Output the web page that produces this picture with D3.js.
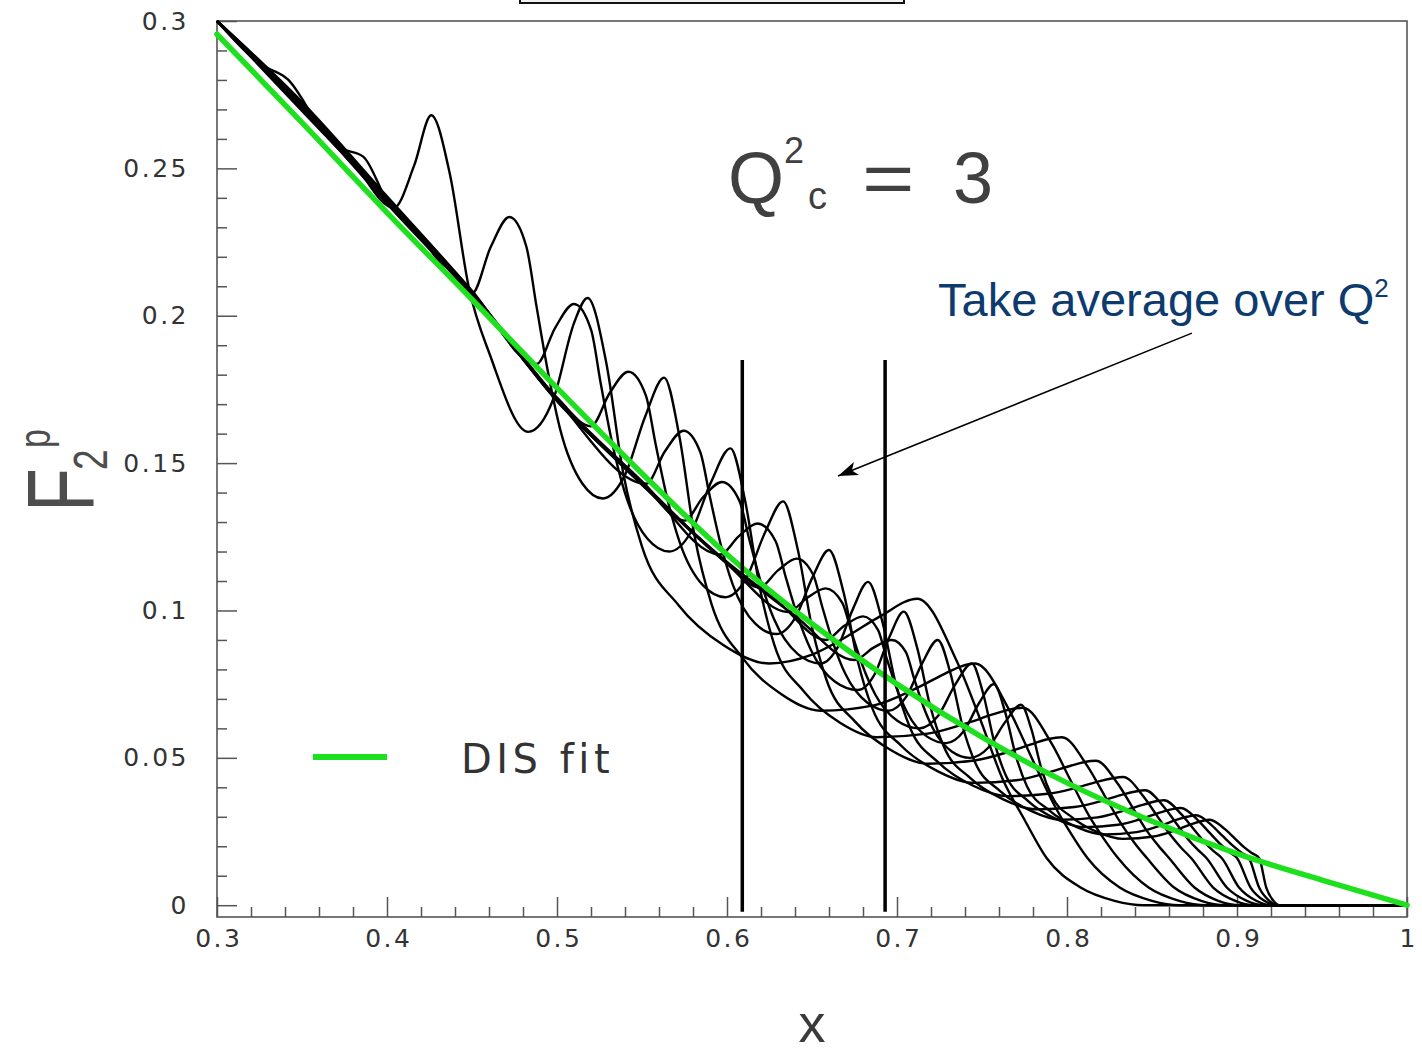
<!DOCTYPE html>
<html>
<head>
<meta charset="utf-8">
<script src="https://cdn.jsdelivr.net/npm/d3@7"></script>
<style>
  html, body { margin: 0; padding: 0; background: #fff; }
  svg { display: block; }
</style>
</head>
<body>
<svg id="chart" width="1422" height="1054"></svg>
<script>
// ---- Axis ticks ----
const xMajorTicks = [0.3, 0.4, 0.5, 0.6, 0.7, 0.8, 0.9, 1.0];
const xTickLabels = ["0.3", "0.4", "0.5", "0.6", "0.7", "0.8", "0.9", "1"];
const yMajorTicks = [0, 0.05, 0.1, 0.15, 0.2, 0.25, 0.3];
const yTickLabels = ["0", "0.05", "0.1", "0.15", "0.2", "0.25", "0.3"];

// ---- DIS fit (smooth F2 vs x) ----
const disFitX  = [0.30, 0.35, 0.40, 0.45, 0.50, 0.55, 0.60, 0.65, 0.70, 0.75, 0.80, 0.85, 0.90, 0.95, 1.00];
const disFitF2 = [0.2955, 0.2655, 0.2350, 0.2055, 0.1755, 0.1465, 0.1190, 0.0955, 0.0750, 0.0570, 0.0415, 0.0285, 0.0175, 0.0085, 0.0];

// ---- Resonance-region F2 at fixed Q2, one array per Q2 value: [x, F2] ----
const resCurve0 = [[0.300,0.300],[0.325,0.2855],[0.342,0.2800],[0.360,0.2646],[0.380,0.2519],[0.404,0.2366],[0.416,0.2510],[0.426,0.2680],[0.437,0.2480],[0.448,0.2100],[0.461,0.1860],[0.483,0.1606],[0.498,0.1720],[0.510,0.1975],[0.518,0.2060],[0.529,0.1840],[0.539,0.1465],[0.550,0.1217],[0.5715,0.1018],[0.598,0.0882],[0.625,0.0820],[0.650,0.0850],[0.670,0.0910],[0.690,0.0980],[0.712,0.1040],[0.735,0.0830],[0.749,0.0630],[0.762,0.0430],[0.775,0.0290],[0.788,0.0160],[0.808,0.0060],[0.828,0.0015],[0.845,0],[1.0,0]];
const resCurve1 = [[0.300,0.300],[0.350,0.2710],[0.372,0.2571],[0.386,0.2540],[0.400,0.2390],[0.420,0.2264],[0.450,0.2075],[0.461,0.2233],[0.472,0.2335],[0.482,0.2234],[0.488,0.2030],[0.495,0.1800],[0.502,0.1612],[0.515,0.1430],[0.527,0.1380],[0.540,0.1460],[0.552,0.1660],[0.563,0.1790],[0.572,0.1590],[0.581,0.1250],[0.591,0.1020],[0.609,0.0840],[0.632,0.0716],[0.655,0.0660],[0.687,0.0679],[0.710,0.0732],[0.728,0.0785],[0.737,0.0809],[0.746,0.0820],[0.766,0.0662],[0.779,0.0503],[0.792,0.0345],[0.802,0.0246],[0.812,0.0160],[0.831,0.0060],[0.850,0.0015],[0.866,0],[1.0,0]];
const resCurve2 = [[0.300,0.300],[0.350,0.2720],[0.400,0.2400],[0.450,0.2085],[0.488,0.1836],[0.499,0.1960],[0.510,0.2040],[0.5201,0.1951],[0.5257,0.1771],[0.5324,0.1570],[0.5397,0.1404],[0.5531,0.1244],[0.566,0.1200],[0.579,0.1268],[0.5908,0.1438],[0.602,0.1550],[0.6106,0.1374],[0.6192,0.1080],[0.6278,0.0884],[0.645,0.0727],[0.6665,0.0619],[0.688,0.0570],[0.718,0.0582],[0.7396,0.0615],[0.7568,0.0648],[0.7654,0.0663],[0.774,0.0670],[0.791,0.0548],[0.802,0.0425],[0.813,0.0303],[0.8216,0.0226],[0.830,0.0160],[0.848,0.0060],[0.866,0.0015],[0.882,0],[1.0,0]];
const resCurve3 = [[0.300,0.300],[0.350,0.2700],[0.400,0.2385],[0.450,0.2070],[0.500,0.1722],[0.520,0.1625],[0.531,0.1738],[0.542,0.1810],[0.5523,0.1729],[0.558,0.1565],[0.5648,0.1382],[0.5722,0.1231],[0.5859,0.1085],[0.599,0.1045],[0.6112,0.1108],[0.6225,0.1266],[0.633,0.1370],[0.6415,0.1210],[0.650,0.0943],[0.6585,0.0765],[0.6755,0.0622],[0.6968,0.0525],[0.718,0.0480],[0.7457,0.0491],[0.7654,0.0520],[0.7812,0.0550],[0.789,0.0564],[0.797,0.0570],[0.812,0.0472],[0.822,0.0373],[0.832,0.0275],[0.8395,0.0213],[0.847,0.0160],[0.863,0.0060],[0.879,0.0015],[0.893,0],[1.0,0]];
const resCurve4 = [[0.300,0.300],[0.350,0.2725],[0.400,0.2405],[0.450,0.2082],[0.500,0.1715],[0.5525,0.1430],[0.5635,0.1540],[0.5745,0.1610],[0.5843,0.1537],[0.5898,0.1389],[0.5963,0.1224],[0.6034,0.1088],[0.6165,0.0956],[0.629,0.0920],[0.6402,0.0976],[0.6504,0.1114],[0.660,0.1205],[0.6685,0.1063],[0.677,0.0826],[0.6855,0.0668],[0.7025,0.0541],[0.7238,0.0455],[0.745,0.0415],[0.7702,0.0424],[0.7882,0.0449],[0.8026,0.0474],[0.8098,0.0485],[0.817,0.0490],[0.830,0.0411],[0.8385,0.0332],[0.847,0.0252],[0.8536,0.0203],[0.860,0.0160],[0.875,0.0060],[0.889,0.0015],[0.902,0],[1.0,0]];
const resCurve5 = [[0.300,0.300],[0.350,0.2705],[0.400,0.2380],[0.450,0.2068],[0.500,0.1712],[0.550,0.1432],[0.575,0.1305],[0.586,0.1385],[0.597,0.1436],[0.6074,0.1371],[0.6132,0.1239],[0.6202,0.1091],[0.6277,0.0970],[0.6417,0.0852],[0.655,0.0820],[0.665,0.0874],[0.6743,0.1008],[0.683,0.1097],[0.6912,0.0966],[0.6994,0.0748],[0.7076,0.0603],[0.724,0.0486],[0.7445,0.0406],[0.765,0.0370],[0.7888,0.0378],[0.8058,0.0399],[0.8194,0.0421],[0.8262,0.0430],[0.833,0.0435],[0.845,0.0369],[0.853,0.0303],[0.861,0.0237],[0.867,0.0196],[0.873,0.0160],[0.886,0.0060],[0.899,0.0015],[0.910,0],[1.0,0]];
const resCurve6 = [[0.300,0.300],[0.350,0.2715],[0.400,0.2398],[0.450,0.2078],[0.500,0.1720],[0.550,0.1438],[0.596,0.1190],[0.607,0.1252],[0.618,0.1295],[0.6286,0.1235],[0.6345,0.1114],[0.6416,0.0979],[0.6493,0.0867],[0.6634,0.0759],[0.677,0.0730],[0.6867,0.0782],[0.6956,0.0911],[0.704,0.0996],[0.7118,0.0875],[0.7196,0.0674],[0.7274,0.0540],[0.743,0.0432],[0.7625,0.0359],[0.782,0.0325],[0.8044,0.0333],[0.8204,0.0354],[0.8332,0.0376],[0.8396,0.0385],[0.846,0.0390],[0.8568,0.0335],[0.864,0.0280],[0.8712,0.0224],[0.8766,0.0190],[0.882,0.0160],[0.894,0.0060],[0.9058,0.0015],[0.916,0],[1.0,0]];
const resCurve7 = [[0.300,0.300],[0.350,0.2695],[0.400,0.2392],[0.450,0.2072],[0.500,0.1716],[0.550,0.1428],[0.600,0.1160],[0.619,0.1078],[0.630,0.1136],[0.641,0.1176],[0.6507,0.1121],[0.6561,0.1011],[0.6626,0.0887],[0.6696,0.0785],[0.6826,0.0687],[0.695,0.0660],[0.7054,0.0707],[0.715,0.0823],[0.724,0.0900],[0.7313,0.0790],[0.7386,0.0607],[0.7459,0.0485],[0.7605,0.0388],[0.7788,0.0320],[0.797,0.0290],[0.818,0.0298],[0.833,0.0320],[0.845,0.0341],[0.851,0.0351],[0.857,0.0356],[0.8672,0.0309],[0.874,0.0262],[0.8808,0.0215],[0.8859,0.0185],[0.891,0.0160],[0.9012,0.0060],[0.9113,0.0015],[0.920,0],[1.0,0]];
const resCurve8 = [[0.300,0.300],[0.350,0.2712],[0.400,0.2388],[0.450,0.2080],[0.500,0.1710],[0.550,0.1435],[0.600,0.1158],[0.636,0.0995],[0.647,0.1042],[0.658,0.1075],[0.6679,0.1025],[0.6734,0.0923],[0.680,0.0809],[0.6872,0.0715],[0.7004,0.0625],[0.713,0.0600],[0.7242,0.0643],[0.7344,0.0750],[0.744,0.0820],[0.7506,0.0720],[0.7572,0.0554],[0.7638,0.0443],[0.777,0.0354],[0.7935,0.0293],[0.810,0.0265],[0.830,0.0273],[0.8442,0.0294],[0.8556,0.0316],[0.8613,0.0325],[0.867,0.0330],[0.8769,0.0289],[0.8835,0.0248],[0.8901,0.0208],[0.8951,0.0182],[0.900,0.0160],[0.908,0.0060],[0.9161,0.0015],[0.923,0],[1.0,0]];
const resCurve9 = [[0.300,0.300],[0.350,0.2708],[0.400,0.2395],[0.450,0.2070],[0.500,0.1718],[0.550,0.1426],[0.600,0.1165],[0.630,0.1030],[0.658,0.0900],[0.669,0.0948],[0.680,0.0980],[0.6888,0.0934],[0.6937,0.0842],[0.6996,0.0739],[0.706,0.0654],[0.7177,0.0572],[0.729,0.0550],[0.7391,0.0589],[0.7483,0.0686],[0.757,0.0750],[0.7635,0.0658],[0.770,0.0505],[0.7765,0.0403],[0.7895,0.0322],[0.8058,0.0265],[0.822,0.0240],[0.8409,0.0248],[0.8544,0.0269],[0.8652,0.0291],[0.8706,0.0300],[0.876,0.0305],[0.8853,0.0270],[0.8915,0.0235],[0.8977,0.0201],[0.9024,0.0179],[0.907,0.0160],[0.913,0.0060],[0.919,0.0015],[0.924,0],[1.0,0]];
const resCurve10 = [[0.300,0.300],[0.350,0.2718],[0.400,0.2402],[0.450,0.2076],[0.500,0.1713],[0.550,0.1431],[0.600,0.1162],[0.640,0.0982],[0.675,0.0832],[0.686,0.0873],[0.697,0.0900],[0.7053,0.0858],[0.7099,0.0772],[0.7154,0.0676],[0.7214,0.0597],[0.7324,0.0521],[0.743,0.0500],[0.7538,0.0535],[0.7637,0.0622],[0.773,0.0680],[0.779,0.0598],[0.785,0.0462],[0.791,0.0371],[0.803,0.0298],[0.818,0.0248],[0.833,0.0225],[0.8509,0.0233],[0.8636,0.0254],[0.8738,0.0276],[0.8789,0.0285],[0.884,0.0290],[0.8927,0.0259],[0.8985,0.0228],[0.9043,0.0196],[0.9087,0.0177],[0.913,0.0160],[0.9172,0.0060],[0.9214,0.0015],[0.925,0],[1.0,0]];
const resonanceCurves = [resCurve0, resCurve1, resCurve2, resCurve3, resCurve4, resCurve5,
                         resCurve6, resCurve7, resCurve8, resCurve9, resCurve10];

// ---- Averaging window in x and the annotation arrow ----
const cutX = [0.609, 0.693];
const cutRange = [-0.0022, 0.185];
const arrowFrom = [0.8735, 0.1941];
const arrowTo = [0.6653, 0.1456];

// ---- Drawing ----
const svg = d3.select("#chart");
const x = d3.scaleLinear().domain([0.3, 1.0]).range([217, 1407]);
const y = d3.scaleLinear().domain([-0.004, 0.3]).range([917, 21]);
const line = d3.line().x(d => x(d[0])).y(d => y(d[1])).curve(d3.curveMonotoneX);

svg.append("defs").append("marker")
  .attr("id", "arrowhead")
  .attr("markerUnits", "userSpaceOnUse")
  .attr("markerWidth", 22).attr("markerHeight", 16)
  .attr("refX", 20).attr("refY", 7)
  .attr("orient", "auto")
  .append("path").attr("d", "M0,0 L20,7 L0,14 L5,7 Z").attr("fill", "#000");

// box peeking in at the top edge
svg.append("rect")
  .attr("x", 520).attr("y", -12).attr("width", 384).attr("height", 15)
  .attr("fill", "#f2f2f2").attr("stroke", "#111").attr("stroke-width", 2);

// frame
svg.append("rect")
  .attr("x", x(0.3)).attr("y", y(0.3))
  .attr("width", x(1.0) - x(0.3)).attr("height", y(-0.004) - y(0.3))
  .attr("fill", "none").attr("stroke", "#555").attr("stroke-width", 1.6);

const tickFont = "'DejaVu Sans', sans-serif";

function styleAxis(g) {
  g.select(".domain").remove();
  g.selectAll(".tick line").attr("stroke", "#555").attr("stroke-width", 1.5);
  g.selectAll(".tick text")
    .attr("fill", "#333")
    .attr("font-family", tickFont)
    .attr("font-size", 25)
    .attr("letter-spacing", "2.5px");
}

const xMinor = d3.range(0.3, 1.0001, 0.02).filter(v => Math.abs(v * 10 - Math.round(v * 10)) > 1e-6);
const yMinor = d3.range(0, 0.3001, 0.01).filter(v => Math.abs(v * 20 - Math.round(v * 20)) > 1e-6);

svg.append("g").attr("transform", `translate(0,${y(-0.004)})`)
  .call(d3.axisBottom(x).tickValues(xMinor).tickSize(-10).tickSizeOuter(0).tickFormat(""))
  .call(styleAxis);
svg.append("g").attr("transform", `translate(0,${y(-0.004)})`)
  .call(d3.axisBottom(x).tickValues(xMajorTicks).tickSize(-20).tickSizeOuter(0).tickPadding(12)
        .tickFormat((d, i) => xTickLabels[i]))
  .call(styleAxis)
  .call(g => g.selectAll(".tick text").attr("dx", "1.25px"));

svg.append("g").attr("transform", `translate(${x(0.3)},0)`)
  .call(d3.axisLeft(y).tickValues(yMinor).tickSize(-10).tickSizeOuter(0).tickFormat(""))
  .call(styleAxis);
svg.append("g").attr("transform", `translate(${x(0.3)},0)`)
  .call(d3.axisLeft(y).tickValues(yMajorTicks).tickSize(-20).tickSizeOuter(0).tickPadding(28)
        .tickFormat((d, i) => yTickLabels[i]))
  .call(styleAxis);

// resonance curves
svg.append("g").selectAll("path")
  .data(resonanceCurves)
  .join("path")
  .attr("d", d => line(d))
  .attr("fill", "none")
  .attr("stroke", "#000")
  .attr("stroke-width", 2.4)
  .attr("stroke-linejoin", "round");

// DIS fit
const disFit = disFitX.map((v, i) => [v, disFitF2[i]]);
svg.append("path")
  .attr("d", line(disFit))
  .attr("fill", "none")
  .attr("stroke", "#1fe01f")
  .attr("stroke-width", 5.5)
  .attr("stroke-linecap", "round");

// averaging window
svg.append("g").selectAll("line")
  .data(cutX)
  .join("line")
  .attr("x1", d => x(d)).attr("x2", d => x(d))
  .attr("y1", y(cutRange[1])).attr("y2", y(cutRange[0]))
  .attr("stroke", "#000").attr("stroke-width", 3.5);

// annotation arrow
svg.append("line")
  .attr("x1", x(arrowFrom[0])).attr("y1", y(arrowFrom[1]))
  .attr("x2", x(arrowTo[0])).attr("y2", y(arrowTo[1]))
  .attr("stroke", "#000").attr("stroke-width", 1.6)
  .attr("marker-end", "url(#arrowhead)");

// annotation text
const note = svg.append("text")
  .attr("x", 938).attr("y", 316)
  .attr("font-family", "'Liberation Sans', Arial, sans-serif")
  .attr("font-size", 47)
  .attr("fill", "#0d3b6e");
note.append("tspan").text("Take average over Q");
note.append("tspan").attr("font-size", 26).attr("dy", -19).text("2");

// Q2_c = 3 label
const qFont = "'Liberation Sans', Arial, sans-serif";
const qColor = "#404040";
svg.append("text").attr("x", 728).attr("y", 203).attr("font-family", qFont)
  .attr("font-size", 72).attr("fill", qColor).text("Q");
svg.append("text").attr("x", 784).attr("y", 163).attr("font-family", qFont)
  .attr("font-size", 36).attr("fill", qColor).text("2");
svg.append("text").attr("x", 808).attr("y", 209).attr("font-family", qFont)
  .attr("font-size", 38).attr("fill", qColor).text("c");
svg.append("text").attr("x", 862).attr("y", 203).attr("font-family", qFont)
  .attr("font-size", 72).attr("fill", qColor)
  .attr("transform", "translate(862,0) scale(1.25,1) translate(-862,0)").text("=");
svg.append("text").attr("x", 953).attr("y", 203).attr("font-family", qFont)
  .attr("font-size", 72).attr("fill", qColor).text("3");

// legend
svg.append("line")
  .attr("x1", 313).attr("x2", 387).attr("y1", 757).attr("y2", 757)
  .attr("stroke", "#1fe01f").attr("stroke-width", 6);
svg.append("text")
  .attr("x", 461).attr("y", 773)
  .attr("font-family", tickFont).attr("font-size", 40)
  .attr("letter-spacing", "4.5px")
  .attr("fill", "#333").text("DIS fit");

// axis titles
svg.append("text")
  .attr("x", 812).attr("y", 1042)
  .attr("text-anchor", "middle")
  .attr("font-family", qFont).attr("font-size", 54)
  .attr("fill", "#3a3a3a").text("x");

const yTitle = svg.append("g")
  .attr("transform", "translate(93,512) rotate(-90) scale(1,1.3)")
  .attr("font-family", qFont)
  .attr("fill", "#4d4d4d");
yTitle.append("text").attr("x", 0).attr("y", 0).attr("font-size", 72).text("F");
yTitle.append("text").attr("x", 42).attr("y", 11).attr("font-size", 37).text("2");
yTitle.append("text").attr("x", 64).attr("y", -33).attr("font-size", 34).text("p");
</script>
</body>
</html>
